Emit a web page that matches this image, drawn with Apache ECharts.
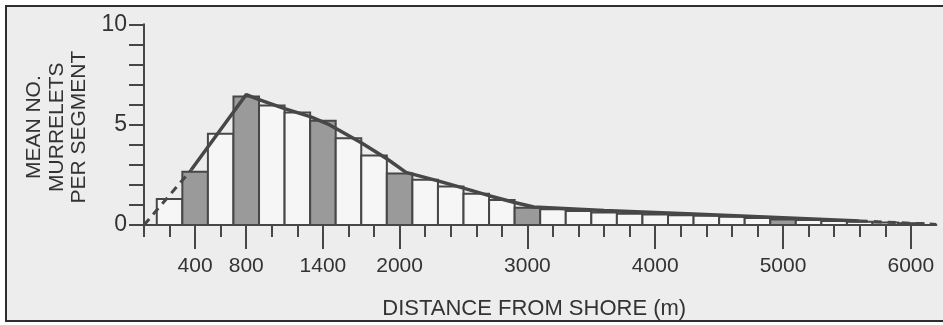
<!DOCTYPE html>
<html>
<head>
<meta charset="utf-8">
<script src="https://cdn.jsdelivr.net/npm/echarts@6/dist/echarts.min.js"></script>
<style>
	html, body { margin: 0; padding: 0; background: #fff; }
	#main { width: 943px; height: 325px; }
</style>
</head>
<body>
<div id="main"></div>
<script>
// 200 m segments, value = segment centre
var segmentCentres = [200, 400, 600, 800, 1000, 1200, 1400, 1600, 1800, 2000,
	2200, 2400, 2600, 2800, 3000, 3200, 3400, 3600, 3800, 4000,
	4200, 4400, 4600, 4800, 5000, 5200, 5400, 5600, 5800, 6000];
var meanMurrelets = [1.3, 2.65, 4.55, 6.4, 5.95, 5.6, 5.2, 4.32, 3.46, 2.56,
	2.26, 1.92, 1.56, 1.25, 0.86, 0.78, 0.7, 0.62, 0.56, 0.52,
	0.49, 0.46, 0.41, 0.35, 0.28, 0.25, 0.2, 0.16, 0.12, 0.09];
// shaded segments
var shadedCentres = [400, 800, 1400, 2000, 3000, 5000];

// fitted curve (dashed where extrapolated)
var curveStart = [[0, 0], [370, 2.75]];
var curveMid = [[370, 2.75], [800, 6.5], [900, 6.25], [1100, 5.8], [1300, 5.4], [1450, 5.0],
	[1700, 4.1], [1900, 3.3], [2050, 2.62], [2300, 2.2], [2500, 1.84], [2700, 1.46],
	[2900, 1.12], [3050, 0.9], [3600, 0.72], [4300, 0.55], [5000, 0.36], [5600, 0.2]];
var curveEnd = [[5600, 0.2], [6200, 0.03]];

var xLabelValues = [400, 800, 1400, 2000, 3000, 4000, 5000, 6000];
var yLabelValues = [0, 5, 10];

var segmentWidth = 200;

var xMinorTicks = [];
for (var t = 0; t <= 6000; t += 200) {
	xMinorTicks.push(t);
}

var ink = '#474747';
var textInk = '#333333';
var font = 'Liberation Sans';

var barData = [];
for (var i = 0; i < segmentCentres.length; i++) {
	var shaded = shadedCentres.indexOf(segmentCentres[i]) >= 0 ? 1 : 0;
	barData.push([segmentCentres[i], meanMurrelets[i], shaded]);
}

var chart = echarts.init(document.getElementById('main'));
chart.setOption({
	backgroundColor: '#ffffff',
	animation: false,
	graphic: [{
		type: 'rect',
		z: -10,
		shape: { x: 6, y: 6, width: 960, height: 315 },
		style: { fill: '#ededed', stroke: '#2e2e2e', lineWidth: 2 }
	}],
	grid: {
		left: 144,
		right: 6.6,
		top: 24.3,
		bottom: 98.3
	},
	xAxis: [
		{
			type: 'value',
			min: 0,
			max: 6200,
			interval: 200,
			name: 'DISTANCE FROM SHORE (m)',
			nameLocation: 'middle',
			nameGap: 73,
			nameTextStyle: { color: textInk, fontSize: 22, fontFamily: font, padding: [0, 12, 0, 0] },
			axisLine: { lineStyle: { color: ink, width: 2 } },
			axisTick: { length: 12, customValues: xMinorTicks, lineStyle: { color: ink, width: 2 } },
			axisLabel: { show: false },
			splitLine: { show: false }
		},
		{
			type: 'value',
			min: 0,
			max: 6200,
			interval: 200,
			position: 'bottom',
			axisLine: { show: false },
			axisTick: { length: 24, customValues: xLabelValues, lineStyle: { color: ink, width: 2 } },
			axisLabel: {
				customValues: xLabelValues,
				formatter: function (v) { return String(v); },
				margin: 31,
				color: textInk,
				fontSize: 21,
				fontFamily: font
			},
			splitLine: { show: false }
		}
	],
	yAxis: {
		type: 'value',
		min: 0,
		max: 10,
		interval: 1,
		name: 'MEAN NO.\nMURRELETS\nPER SEGMENT',
		nameLocation: 'middle',
		nameRotate: 90,
		nameGap: 46,
		nameTextStyle: { color: textInk, fontSize: 21, lineHeight: 22.5, fontFamily: font, padding: [0, 5, 0, 0] },
		axisLine: { show: true, lineStyle: { color: ink, width: 2 } },
		axisTick: { show: true, length: 15, lineStyle: { color: ink, width: 2 } },
		axisLabel: {
			customValues: yLabelValues,
			margin: 17,
			color: textInk,
			fontSize: 23,
			fontFamily: font
		},
		splitLine: { show: false }
	},
	series: [
		{
			name: 'segments',
			type: 'custom',
			xAxisIndex: 0,
			renderItem: function (params, api) {
				var x = api.value(0);
				var topLeft = api.coord([x - segmentWidth / 2, api.value(1)]);
				var bottomRight = api.coord([x + segmentWidth / 2, 0]);
				return {
					type: 'rect',
					shape: {
						x: topLeft[0],
						y: topLeft[1],
						width: bottomRight[0] - topLeft[0],
						height: bottomRight[1] - topLeft[1]
					},
					style: {
						fill: api.value(2) ? '#9a9a9a' : '#f6f6f6',
						stroke: ink,
						lineWidth: 2
					}
				};
			},
			encode: { x: 0, y: 1 },
			data: barData,
			z: 2
		},
		{
			name: 'curveStart',
			type: 'line',
			xAxisIndex: 0,
			showSymbol: false,
			symbol: 'none',
			lineStyle: { color: ink, width: 3, type: [8, 6] },
			data: curveStart,
			z: 3
		},
		{
			name: 'curve',
			type: 'line',
			xAxisIndex: 0,
			showSymbol: false,
			symbol: 'none',
			lineStyle: { color: ink, width: 3.5 },
			data: curveMid,
			z: 3
		},
		{
			name: 'curveEnd',
			type: 'line',
			xAxisIndex: 0,
			showSymbol: false,
			symbol: 'none',
			lineStyle: { color: ink, width: 3, type: [8, 6] },
			data: curveEnd,
			z: 3
		}
	]
});
</script>
</body>
</html>
